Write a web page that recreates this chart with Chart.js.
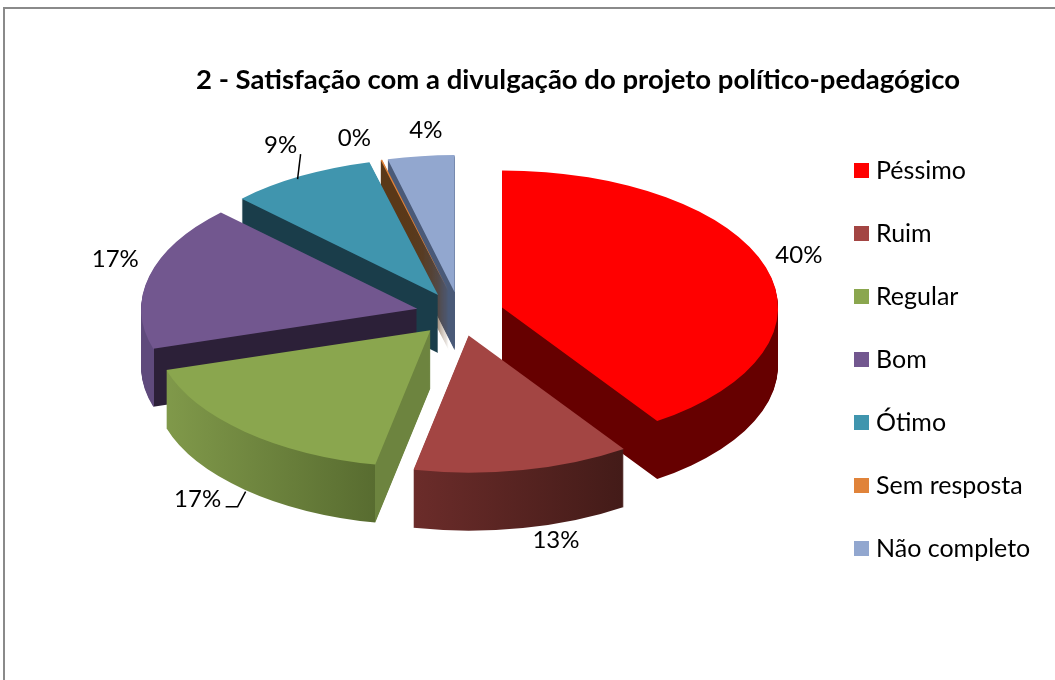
<!DOCTYPE html>
<html><head><meta charset="utf-8">
<style>html,body{margin:0;padding:0;background:#fff}canvas{display:block}</style>
<script src="https://cdn.jsdelivr.net/npm/chart.js@4"></script>
</head><body><canvas id="c" width="1055" height="680"></canvas>
<script>
const titleText = '2 - Satisfação com a divulgação do projeto político-pedagógico';
const categories = ['Péssimo','Ruim','Regular','Bom','Ótimo','Sem resposta','Não completo'];
const values = [40.5,12.7,17.1,17.1,8.6,0.1,3.9];
const valueLabels = ['40%','13%','17%','17%','9%','0%','4%'];
const topColors = ['#ff0000','#a34543','#8aa64e','#72578f','#4095ae','#e0833a','#92a7cf'];
const innerWalls = ['#660000','#431b18','#6d843f','#2c2038','#1a3d4a','#5a3818','#4a5a78'];
const outerLeft  = ['#660000','#6b2c2a','#80994a','#5f4a7c','#1a3d4a','#5a3818','#4a5a78'];
const outerRight = ['#660000','#431b18','#586c30','#5f4a7c','#1a3d4a','#5a3818','#4a5a78'];
const drawOrder = [6,5,4,3,0,2,1];
const labelOffsets = [[33,-12],[33,70],[-47,68],[-34,-17],[-20,-31],[-27,-22],[5,-26]];
const leaders = {4:[[0,-22],[-3,3]], 2:[[-19,75],[-7,75],[1,60]]};
const view = {cx:460, cy:314, squash:0.497, explode:44, depth:58, radius:276};

const pie3d = {
  id:'pie3d',
  beforeDraw(chart){
    const c=chart.ctx; c.save();
    c.strokeStyle='#8a8a8a'; c.lineWidth=2;
    c.beginPath(); c.moveTo(4,690); c.lineTo(4,8); c.lineTo(1065,8); c.stroke();
    c.restore();
  },
  afterLayout(chart){
    chart.titleBlock.left=101; chart.titleBlock.right=1055;
    chart.legend.left=821.5; chart.legend.top=120;
  },
  beforeDatasetsDraw(chart){
    const ctx=chart.ctx, arcs=chart.getDatasetMeta(0).data;
    const put=(arc,dy)=>{
      const mid=(arc.startAngle+arc.endAngle)/2;
      ctx.translate(view.cx, view.cy+dy);
      ctx.scale(1,view.squash);
      ctx.translate(Math.cos(mid)*view.explode, Math.sin(mid)*view.explode);
      ctx.translate(-arc.x,-arc.y);
    };
    const paint=(arc,fill,dy)=>{
      const orig=arc.options;
      arc.options=Object.create(orig,{backgroundColor:{value:fill}});
      ctx.save(); put(arc,dy); arc.draw(ctx); ctx.restore();
      arc.options=orig;
    };
    drawOrder.forEach(i=>{
      const arc=arcs[i];
      const left=arc.x+arc.outerRadius*Math.min(Math.cos(arc.startAngle),Math.cos(arc.endAngle));
      const corner=arc.x+arc.outerRadius*Math.cos(arc.startAngle);
      const span=Math.max(corner-left,1);
      const g=ctx.createLinearGradient(left,0,left+span+1,0);
      g.addColorStop(0,outerLeft[i]);
      g.addColorStop(span/(span+1),outerRight[i]);
      g.addColorStop(span/(span+1),i===1?outerRight[i]:innerWalls[i]);
      g.addColorStop(1,i===1?outerRight[i]:innerWalls[i]);
      for(let d=view.depth;d>0;d--) paint(arc,g,d);
      paint(arc,topColors[i],0);
    });
    return false;
  },
  afterDraw(chart){
    const ctx=chart.ctx, arcs=chart.getDatasetMeta(0).data;
    ctx.save();
    ctx.font='24px Lato'; ctx.fillStyle='#000'; ctx.textAlign='center'; ctx.textBaseline='middle';
    arcs.forEach((arc,i)=>{
      const mid=(arc.startAngle+arc.endAngle)/2;
      const ax=view.cx+Math.cos(mid)*(view.explode+view.radius);
      const ay=view.cy+Math.sin(mid)*(view.explode+view.radius)*view.squash;
      ctx.fillText(valueLabels[i],ax+labelOffsets[i][0],ay+labelOffsets[i][1]);
      if(leaders[i]){
        ctx.beginPath();
        leaders[i].forEach((p,k)=>k?ctx.lineTo(ax+p[0],ay+p[1]):ctx.moveTo(ax+p[0],ay+p[1]));
        ctx.strokeStyle='#000'; ctx.lineWidth=1.5; ctx.stroke();
      }
    });
    ctx.restore();
  }
};

new Chart(document.getElementById('c'),{
  type:'pie',
  data:{labels:categories,datasets:[{data:values,backgroundColor:topColors,borderWidth:0}]},
  options:{
    responsive:false,animation:false,radius:view.radius,
    layout:{padding:0},
    events:[],
    plugins:{
      tooltip:{enabled:false},
      title:{display:true,text:titleText,color:'#000',font:{family:'Lato',size:27.5,weight:'bold',lineHeight:1.2},padding:{top:64,bottom:0}},
      legend:{position:'right',align:'start',
        labels:{font:{family:'Lato',size:25,lineHeight:1},color:'#000',boxWidth:4,boxHeight:4,padding:38,
          generateLabels(){return categories.map((t,i)=>({text:t,fillStyle:topColors[i],strokeStyle:topColors[i],lineWidth:11,hidden:false,index:i}));}}}
    }
  },
  plugins:[pie3d]
});
</script></body></html>
